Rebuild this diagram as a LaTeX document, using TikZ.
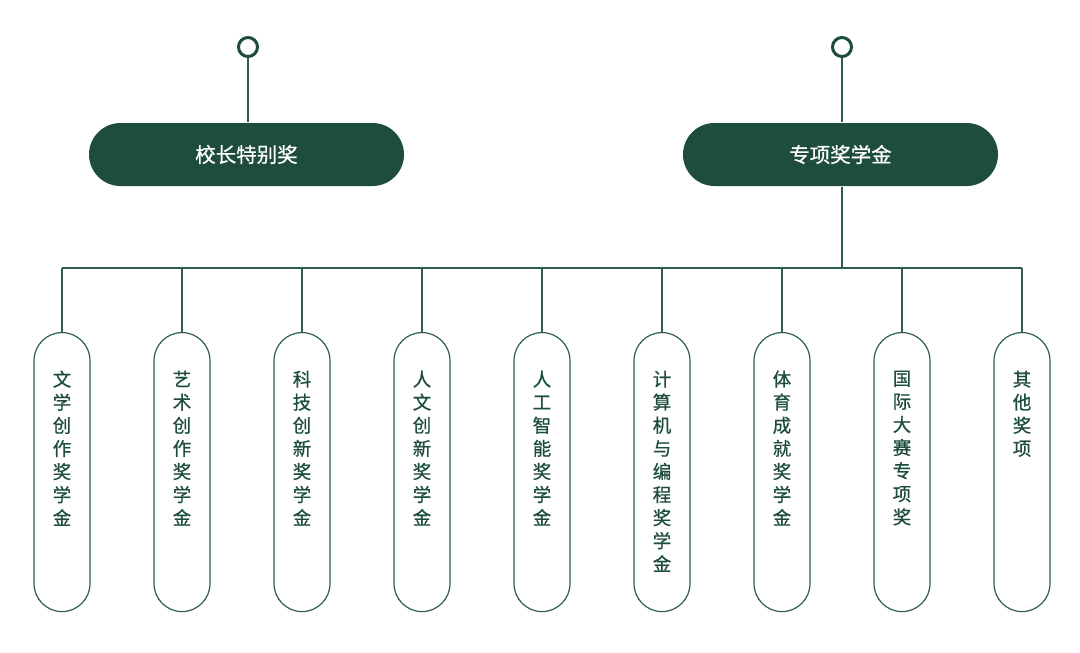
\documentclass[tikz,border=0pt]{standalone}
\usepackage{fontspec}
\setmainfont{Noto Sans CJK SC}[BoldFont={Noto Sans CJK SC}, BoldFeatures={FakeBold=0.7}]
\definecolor{deepgreen}{HTML}{1E4D3F}
\definecolor{linegreen}{HTML}{2F5E4F}
\begin{document}
\begin{tikzpicture}[x=1pt, y=-1pt, line width=1.2pt,
		ring/.style = {draw=deepgreen, circle, line width=3pt, inner sep=0pt, minimum size=19pt},
		head/.style = {fill=deepgreen, rounded corners=31.5pt, minimum width=315pt, minimum height=63pt, text=white, font=\bfseries\fontsize{20.5}{24}\selectfont},
		pill/.style = {draw=linegreen, rounded corners=28pt, minimum width=56pt, minimum height=279pt, anchor=north},
		letter/.style = {anchor=north, align=center, text=deepgreen, inner sep=0pt, font=\bfseries\fontsize{18.5}{23.1}\selectfont}]
	\useasboundingbox (0,0) rectangle (1080,653);

	% top
	\node[ring] (r1) at (248,47) {};
	\node[ring] (r2) at (842,47) {};
	\node[head] (h1) at (246.5,154.5) {校长特别奖};
	\node[head] (h2) at (840.5,154.5) {专项奖学金};
	\draw[linegreen] (r1) -- (r1 |- h1.north);
	\draw[linegreen] (r2) -- (r2 |- h2.north);

	% bus
	\coordinate (bl) at (62,268);
	\coordinate (br) at (1022,268);
	\draw[linegreen] (r2 |- h2.south) -- (r2 |- bl);
	\draw[linegreen] (bl) -- (br);

	% pills
	\node[pill] (p1) at (62,332) {};
	\node[pill] (p2) at (182,332) {};
	\node[pill] (p3) at (302,332) {};
	\node[pill] (p4) at (422,332) {};
	\node[pill] (p5) at (542,332) {};
	\node[pill] (p6) at (662,332) {};
	\node[pill] (p7) at (782,332) {};
	\node[pill] (p8) at (902,332) {};
	\node[pill] (p9) at (1022,332) {};
	\foreach \i in {1,...,9} \draw[linegreen] (p\i.north) -- (p\i.north |- bl);

	\node[letter] (t1) at ([yshift=-38pt]p1.north) {文\\学\\创\\作\\奖\\学\\金};
	\node[letter] (t2) at ([yshift=-38pt]p2.north) {艺\\术\\创\\作\\奖\\学\\金};
	\node[letter] (t3) at ([yshift=-38pt]p3.north) {科\\技\\创\\新\\奖\\学\\金};
	\node[letter] (t4) at ([yshift=-38pt]p4.north) {人\\文\\创\\新\\奖\\学\\金};
	\node[letter] (t5) at ([yshift=-38pt]p5.north) {人\\工\\智\\能\\奖\\学\\金};
	\node[letter] (t6) at ([yshift=-38pt]p6.north) {计\\算\\机\\与\\编\\程\\奖\\学\\金};
	\node[letter] (t7) at ([yshift=-38pt]p7.north) {体\\育\\成\\就\\奖\\学\\金};
	\node[letter] (t8) at ([yshift=-38pt]p8.north) {国\\际\\大\\赛\\专\\项\\奖};
	\node[letter] (t9) at ([yshift=-38pt]p9.north) {其\\他\\奖\\项};

\end{tikzpicture}
\end{document}
